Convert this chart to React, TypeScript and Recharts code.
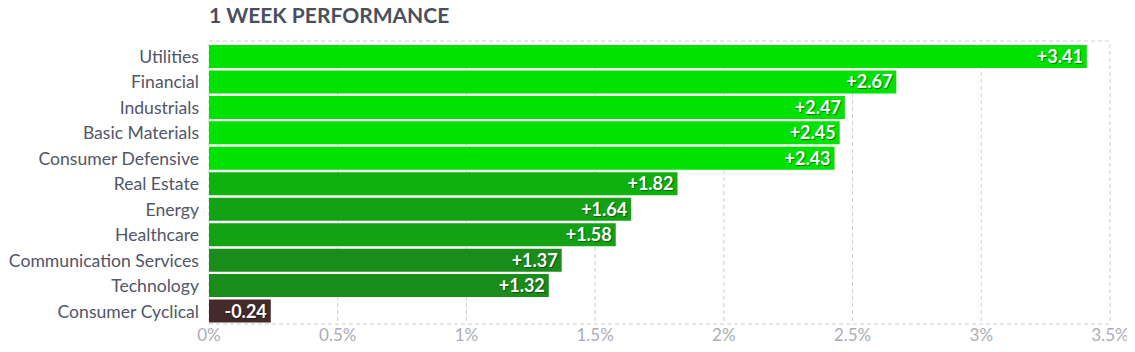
import { Bar, BarChart, CartesianGrid, Cell, LabelList, XAxis, YAxis } from 'recharts';

const sectors = [
  'Utilities',
  'Financial',
  'Industrials',
  'Basic Materials',
  'Consumer Defensive',
  'Real Estate',
  'Energy',
  'Healthcare',
  'Communication Services',
  'Technology',
  'Consumer Cyclical'
];
const weekChange = [3.41, 2.67, 2.47, 2.45, 2.43, 1.82, 1.64, 1.58, 1.37, 1.32, -0.24];
const xTicks = [0, 0.5, 1, 1.5, 2, 2.5, 3, 3.5];

const FONT = 'Lato, "Open Sans", sans-serif';

function barColor(v: number) {
  if (v < 0) return '#442a2b';
  if (v >= 2) return '#00e200';
  if (v >= 1.75) return '#0fb10f';
  if (v >= 1.5) return '#13a213';
  return '#1a8c1a';
}

const data = sectors.map((name, i) => ({ name, value: weekChange[i], size: Math.abs(weekChange[i]) }));

function ValueLabel(props: any) {
  const { x, y, width, height, value } = props;
  const text = value > 0 ? `+${value.toFixed(2)}` : value.toFixed(2);
  return (
    <text
      x={x + width - 4}
      y={y + height / 2}
      dy="0.36em"
      textAnchor="end"
      fill="#fff"
      fontFamily={FONT}
      fontWeight={700}
      fontSize={18}
      style={{ textShadow: '1px 1px 1px rgba(0,0,0,0.45)' }}
    >
      {text}
    </text>
  );
}

export default function App() {
  return (
    <div style={{ margin: -8, width: 1135, height: 352, position: 'relative', background: '#fff' }}>
      <div
        style={{
          position: 'absolute',
          left: 209,
          top: 2,
          fontFamily: FONT,
          fontWeight: 700,
          fontSize: 21,
          color: '#4a4f5e'
        }}
      >
        1 WEEK PERFORMANCE
      </div>
      <BarChart
        width={1135}
        height={352}
        data={data}
        layout="vertical"
        margin={{ top: 44, right: 25, bottom: 0, left: 0 }}
        barCategoryGap={1}
      >
        <CartesianGrid
          stroke="#cfcfd6"
          strokeDasharray="4 3"
          horizontalCoordinatesGenerator={({ offset }: any) => [offset.top - 3, offset.top + offset.height]}
        />
        <XAxis
          type="number"
          domain={[0, 3.5]}
          ticks={xTicks}
          height={28}
          axisLine={false}
          tickLine={false}
          tickSize={0}
          tickMargin={5}
          tickFormatter={(v: number) => `${v}%`}
          tick={{ fill: '#abadb5', fontSize: 17, fontFamily: FONT }}
          interval={0}
        />
        <YAxis
          type="category"
          dataKey="name"
          width={209}
          axisLine={false}
          tickLine={false}
          tickSize={0}
          tickMargin={10}
          interval={0}
          tick={{ fill: '#515668', fontSize: 17.6, fontFamily: FONT }}
        />
        <Bar dataKey="size" isAnimationActive={false}>
          {data.map((d) => (
            <Cell key={d.name} fill={barColor(d.value)} />
          ))}
          <LabelList dataKey="value" content={ValueLabel} />
        </Bar>
      </BarChart>
    </div>
  );
}
